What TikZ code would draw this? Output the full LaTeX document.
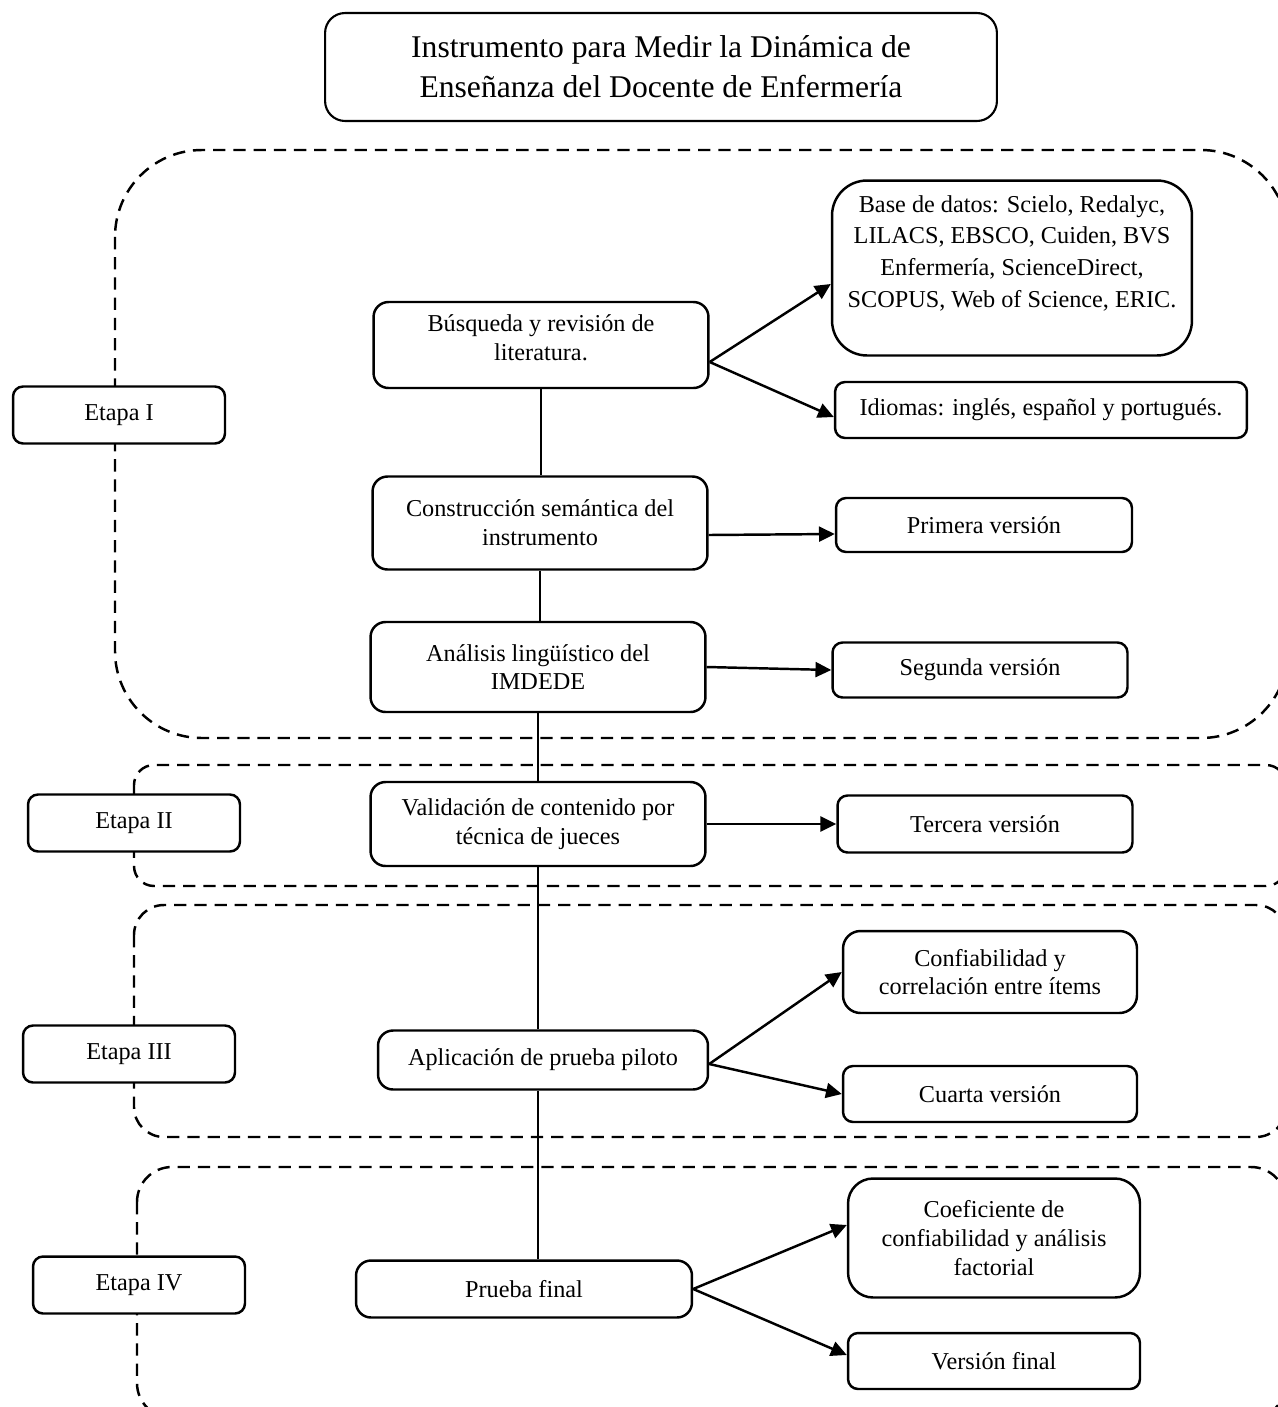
\documentclass[tikz,border=0pt]{standalone}
\usepackage{fontspec}
\setmainfont{Liberation Serif}
\usetikzlibrary{positioning, arrows.meta, calc}
\tikzset{
    caja/.style = {draw, line width=1.4pt, fill=white, align=center,
                   rounded corners=0.3cm, inner sep=2pt,
                   font=\fontsize{13.8}{16.4}\selectfont},
    etapa/.style = {caja, rounded corners=0.2cm,
                    minimum width=4.24cm, minimum height=1.14cm},
    paso/.style = {caja, minimum width=6.7cm},
    resultado/.style = {caja, rounded corners=0.2cm,
                        minimum width=5.9cm, minimum height=1.12cm},
    region/.style = {line width=1.4pt, dash pattern=on 7pt off 4.5pt},
    flecha/.style = {-{Triangle[length=9pt, width=8.5pt]}, line width=1.4pt},
}

\begin{document}
\begin{tikzpicture}[x=0.02cm, y=-0.02cm]
        \useasboundingbox (0,0) rectangle (1278,1407);
        \clip (0,0) rectangle (1278,1407);
        % Regiones de cada etapa
        \draw[region, rounded corners=1.74cm] (115,150) rectangle (1288,738);
        \draw[region, rounded corners=0.4cm] (134,765) rectangle (1286,886);
        \draw[region, rounded corners=0.6cm] (134,905) rectangle (1286,1137);
        \draw[region, rounded corners=0.7cm] (137,1167) rectangle (1286,1418);
        % Titulo
        \node[caja, line width=1.2pt, rounded corners=0.4cm, minimum width=13.44cm,
              minimum height=2.16cm, font=\fontsize{18}{22.7}\selectfont]
              (titulo) at (661,67)
              {Instrumento para Medir la Dinámica de\\Enseñanza del Docente de Enfermería};
        % Etapas
        \node[etapa] (etapa1) at (119,415) {Etapa I};
        \node[etapa] (etapa2) at (134,823) {Etapa II};
        \node[etapa] (etapa3) at (129,1054) {Etapa III};
        \node[etapa] (etapa4) at (139,1285) {Etapa IV};
        % Pasos centrales
        \node[paso, minimum height=1.72cm] (busqueda) at (541,345)
              {Búsqueda y revisión de\\literatura.\\[-8pt]~};
        \node[paso, minimum height=1.86cm] (construccion) at (540,523)
              {Construcción semántica del\\instrumento};
        \node[paso, minimum height=1.8cm] (analisis) at (538,667)
              {Análisis lingüístico del\\IMDEDE};
        \node[paso, minimum height=1.68cm] (validacion) at (538,824)
              {Validación de contenido por\\técnica de jueces};
        \node[paso, minimum width=6.6cm, minimum height=1.18cm] (aplicacion)
              at (543,1060) {Aplicación de prueba piloto};
        \node[paso, minimum width=6.72cm, minimum height=1.14cm] (prueba)
              at (524,1289) {Prueba final};
        % Linea central
        \draw[line width=1.4pt] (busqueda.south) -- (busqueda.south |- construccion.north);
        \draw[line width=1.4pt] (construccion.south) -- (construccion.south |- analisis.north);
        \draw[line width=1.4pt] (analisis.south) -- (analisis.south |- validacion.north);
        \draw[line width=1.4pt] (validacion.south) -- (validacion.south |- aplicacion.north);
        \draw[line width=1.4pt] (validacion.south |- aplicacion.south) -- (validacion.south |- prueba.north);
        % Resultados
        \node[caja, rounded corners=0.7cm, minimum width=7.2cm, minimum height=3.5cm,
              font=\fontsize{13.8}{18}\selectfont]
              (bases) at (1012,268)
              {Base de datos: Scielo, Redalyc,\\LILACS, EBSCO, Cuiden, BVS\\
               Enfermería, ScienceDirect,\\SCOPUS, Web of Science, ERIC.\\[1pt]~};
        \node[resultado, minimum width=8.24cm] (idiomas) at (1041,410)
              {Idiomas: inglés, español y portugués.};
        \node[resultado, minimum width=5.92cm, minimum height=1.08cm] (primera)
              at (984,525) {Primera versión};
        \node[resultado, minimum height=1.1cm] (segunda) at (980,670)
              {Segunda versión};
        \node[resultado, minimum height=1.14cm] (tercera) at (985,824)
              {Tercera versión};
        \node[resultado, rounded corners=0.35cm, minimum width=5.88cm,
              minimum height=1.64cm] (confiabilidad) at (990,972)
              {Confiabilidad y\\correlación entre ítems};
        \node[resultado, minimum width=5.88cm] (cuarta) at (990,1094)
              {Cuarta versión};
        \node[resultado, rounded corners=0.5cm, minimum width=5.84cm,
              minimum height=2.38cm] (coeficiente) at (994,1238)
              {Coeficiente de\\confiabilidad y análisis\\factorial};
        \node[resultado, minimum width=5.84cm] (vfinal) at (994,1361)
              {Versión final};
        % Flechas
        \draw[flecha] ($(busqueda.east)+(0,17)$) -- ($(bases.west)+(0,16)$);
        \draw[flecha] ($(busqueda.east)+(0,17)$) -- ($(idiomas.west)+(0,7)$);
        \draw[flecha] ($(construccion.east)+(0,12)$) -- ($(primera.west)+(0,9)$);
        \draw[flecha] (analisis.east) -- (segunda.west);
        \draw[flecha] (validacion.east) -- (tercera.west);
        \draw[flecha] ($(aplicacion.east)+(0,4)$) -- (confiabilidad.west);
        \draw[flecha] ($(aplicacion.east)+(0,4)$) -- (cuarta.west);
        \draw[flecha] (prueba.east) -- ($(coeficiente.west)+(0,-13)$);
        \draw[flecha] (prueba.east) -- ($(vfinal.west)+(0,-6)$);
      \end{tikzpicture}
\end{document}
